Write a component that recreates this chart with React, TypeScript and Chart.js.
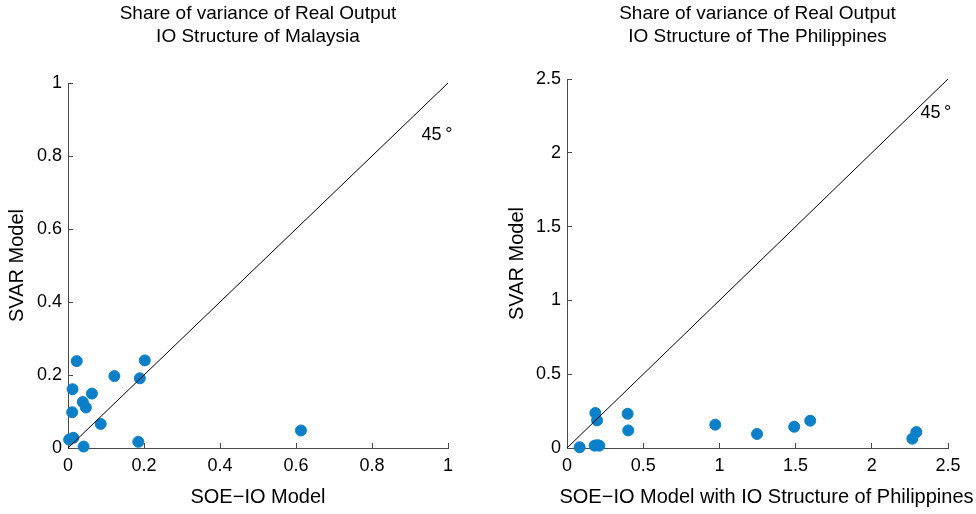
import React, { useEffect, useRef } from "react";
import { Chart, registerables } from "chart.js";

Chart.register(...registerables);

// ---------- data ----------
const malaysiaTitle = ["Share of variance of Real Output", "IO Structure of Malaysia"];
const philippinesTitle = ["Share of variance of Real Output", "IO Structure of The Philippines"];
const malaysiaXLabel = "SOE\u2212IO Model";
const philippinesXLabel = "SOE\u2212IO Model with IO Structure of Philippines";
const yAxisLabel = "SVAR Model";
const diagonalLabel = "45\u2009\u00b0";

const malaysiaX = [0.023, 0.202, 0.122, 0.189, 0.012, 0.063, 0.039, 0.047, 0.011, 0.086, 0.003, 0.014, 0.041, 0.185, 0.613];
const malaysiaY = [0.238, 0.240, 0.197, 0.191, 0.161, 0.149, 0.126, 0.111, 0.098, 0.066, 0.023, 0.028, 0.004, 0.017, 0.048];

const philippinesX = [0.186, 0.197, 0.398, 0.402, 0.973, 1.247, 1.491, 1.596, 2.292, 2.266, 0.083, 0.181, 0.199, 0.212];
const philippinesY = [0.237, 0.187, 0.232, 0.119, 0.158, 0.095, 0.144, 0.185, 0.108, 0.063, 0.005, 0.016, 0.019, 0.016];

const malaysiaAxisMax = 1;
const malaysiaStep = 0.2;
const philippinesAxisMax = 2.5;
const philippinesStep = 0.5;

// ---------- style ----------
const FONT = '"Liberation Sans", Arial, Helvetica, sans-serif';
const AXIS_COLOR = "#4a4a4a";
const POINT_COLOR = "#0b80c8";

const formatTick = (v: any) => String(Number(Number(v).toFixed(3)));

const diagLabelPlugin = {
  id: "diagLabel",
  afterDatasetsDraw(chart: any, _args: any, opts: any) {
    const { ctx, scales } = chart;
    const xs = scales.x;
    const ys = scales.y;
    ctx.save();
    ctx.font = `18px ${FONT}`;
    ctx.fillStyle = "#000";
    ctx.textAlign = "center";
    ctx.textBaseline = "middle";
    ctx.fillText(opts.text, xs.getPixelForValue(opts.x), ys.getPixelForValue(opts.y));
    ctx.restore();
  },
};

// x-axis title drawn without width squeezing (the long label is wider than the plot area)
const wideXTitlePlugin = {
  id: "wideXTitle",
  afterDraw(chart: any, _args: any, opts: any) {
    if (!opts || !opts.text) return;
    const { ctx, chartArea } = chart;
    ctx.save();
    ctx.font = `20px ${FONT}`;
    ctx.fillStyle = "#000";
    ctx.textAlign = "center";
    ctx.textBaseline = "middle";
    ctx.fillText(opts.text, (chartArea.left + chartArea.right) / 2 + opts.shift, chart.height - opts.fromBottom);
    ctx.restore();
  },
};

type Panel = {
  xs: number[];
  ys: number[];
  max: number;
  step: number;
  title: string[];
  xLabel: string;
  wideXLabel: boolean;
  labelX: number;
  labelY: number;
  padRight: number;
  titleBottom: number;
  yAxisWidth: number;
  yTitlePad: number;
};

function makeConfig(p: Panel): any {
  const points = p.xs.map((x, i) => ({ x, y: p.ys[i] }));
  const tickFont = { family: FONT, size: 18 };
  const titleFont = { family: FONT, size: 20, weight: "normal" as const, lineHeight: 1.2 };
  return {
    type: "scatter",
    data: {
      datasets: [
        {
          type: "line",
          data: [
            { x: 0, y: 0 },
            { x: p.max, y: p.max },
          ],
          borderColor: "#000",
          borderWidth: 1,
          pointRadius: 0,
          showLine: true,
          fill: false,
          order: 0,
          clip: false,
        },
        {
          data: points,
          backgroundColor: POINT_COLOR,
          borderColor: POINT_COLOR,
          borderWidth: 1,
          pointRadius: 5.5,
          order: 1,
          clip: false,
        },
      ],
    },
    options: {
      responsive: false,
      animation: false,
      events: [],
      layout: { padding: { left: 0, right: p.padRight, top: 0, bottom: 0 } },
      plugins: {
        legend: { display: false },
        tooltip: { enabled: false },
        title: {
          display: true,
          text: p.title,
          fullSize: false,
          color: "#000",
          font: { family: FONT, size: 19, weight: "normal", lineHeight: 23 / 19 },
          padding: { top: 2.5, bottom: p.titleBottom },
        },
        diagLabel: { text: diagonalLabel, x: p.labelX, y: p.labelY },
        wideXTitle: p.wideXLabel ? { text: p.xLabel, shift: 9, fromBottom: 17 } : { text: "" },
      },
      scales: {
        x: {
          type: "linear",
          min: 0,
          max: p.max,
          ticks: {
            stepSize: p.step,
            font: tickFont,
            color: "#000",
            padding: 12,
            maxRotation: 0,
            autoSkip: false,
            callback: formatTick,
          },
          grid: {
            drawOnChartArea: false,
            drawTicks: true,
            tickLength: -5,
            color: AXIS_COLOR,
            lineWidth: 1,
          },
          border: { color: AXIS_COLOR, width: 1 },
          title: {
            display: !p.wideXLabel,
            text: p.xLabel,
            color: "#000",
            font: titleFont,
            padding: { top: 0, bottom: 5 },
          },
          afterFit(scale: any) {
            scale.height = 66;
          },
        },
        y: {
          type: "linear",
          min: 0,
          max: p.max,
          ticks: {
            stepSize: p.step,
            font: tickFont,
            color: "#000",
            padding: 11,
            autoSkip: false,
            callback: formatTick,
          },
          grid: {
            drawOnChartArea: false,
            drawTicks: true,
            tickLength: -5,
            color: AXIS_COLOR,
            lineWidth: 1,
          },
          border: { color: AXIS_COLOR, width: 1 },
          title: {
            display: true,
            text: yAxisLabel,
            color: "#000",
            font: titleFont,
            padding: { top: p.yTitlePad, bottom: 0 },
          },
          afterFit(scale: any) {
            scale.width = p.yAxisWidth;
          },
        },
      },
    },
    plugins: [diagLabelPlugin, wideXTitlePlugin],
  };
}

const leftPanel: Panel = {
  xs: malaysiaX,
  ys: malaysiaY,
  max: malaysiaAxisMax,
  step: malaysiaStep,
  title: malaysiaTitle,
  xLabel: malaysiaXLabel,
  wideXLabel: false,
  labelX: 0.971,
  labelY: 0.858,
  padRight: 40,
  titleBottom: 34.5,
  yAxisWidth: 68,
  yTitlePad: 5,
};

const rightPanel: Panel = {
  xs: philippinesX,
  ys: philippinesY,
  max: philippinesAxisMax,
  step: philippinesStep,
  title: philippinesTitle,
  xLabel: philippinesXLabel,
  wideXLabel: true,
  labelX: 2.42,
  labelY: 2.27,
  padRight: 28,
  titleBottom: 30.5,
  yAxisWidth: 79,
  yTitlePad: 17,
};

export default function App() {
  const leftRef = useRef<HTMLCanvasElement>(null);
  const rightRef = useRef<HTMLCanvasElement>(null);

  useEffect(() => {
    const c1 = new Chart(leftRef.current as HTMLCanvasElement, makeConfig(leftPanel));
    const c2 = new Chart(rightRef.current as HTMLCanvasElement, makeConfig(rightPanel));
    return () => {
      c1.destroy();
      c2.destroy();
    };
  }, []);

  return (
    <div style={{ position: "absolute", left: 0, top: 0, width: 976, height: 514, background: "#fff" }}>
      <canvas ref={leftRef} width={488} height={514} style={{ position: "absolute", left: 0, top: 0 }} />
      <canvas ref={rightRef} width={488} height={514} style={{ position: "absolute", left: 488, top: 0 }} />
    </div>
  );
}
